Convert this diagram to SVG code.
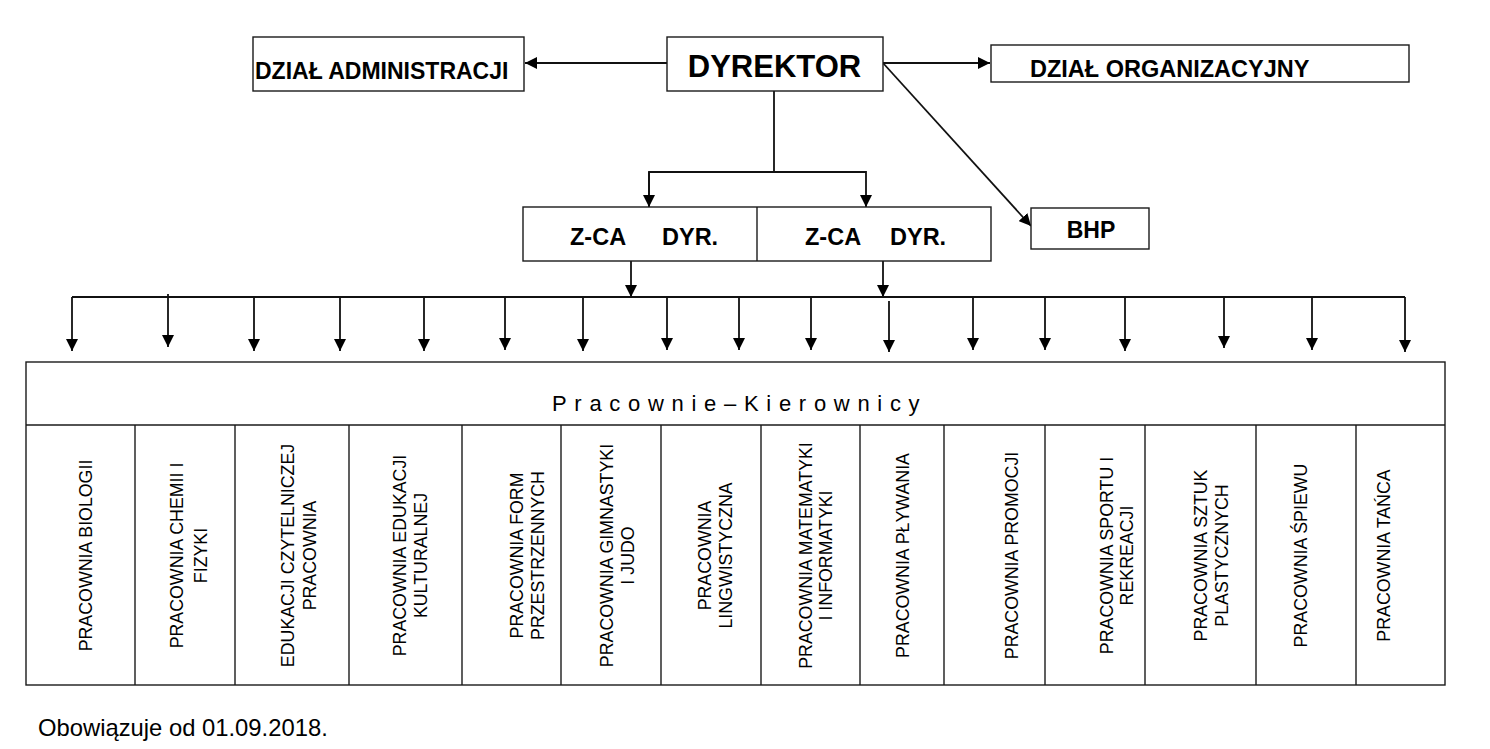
<svg xmlns="http://www.w3.org/2000/svg" width="1490" height="749" viewBox="0 0 1490 749">
<style>
.box{fill:#fff;stroke:#1a1a1a;stroke-width:1.4}
.line{fill:none;stroke:#111;stroke-width:1.8}
.b{font-family:"Liberation Sans",Arial,sans-serif;font-weight:bold;fill:#000}
.v{font-family:"Liberation Sans",Arial,sans-serif;font-size:17.8px;fill:#000}
.t{font-family:"Liberation Sans",Arial,sans-serif;fill:#000}
</style>
<defs>
<marker id="ah" markerWidth="12" markerHeight="12" refX="12" refY="6" orient="auto" markerUnits="userSpaceOnUse">
<path d="M0,0 L12,6 L0,12 z" fill="#000"/>
</marker>
</defs>
<rect width="1490" height="749" fill="#fff"/>

<g id="connectors">
<line class="line" x1="667" y1="63" x2="525" y2="63" marker-end="url(#ah)"/>
<line class="line" x1="883" y1="63" x2="990" y2="63" marker-end="url(#ah)"/>
<line class="line" x1="883" y1="63" x2="1031" y2="226" marker-end="url(#ah)"/>
<polyline class="line" points="774,91 774,172"/>
<polyline class="line" points="649,207 649,172 866,172 866,207" marker-end="url(#ah)"/>
<line class="line" x1="649" y1="172" x2="649" y2="207" marker-end="url(#ah)"/>
<line class="line" x1="631" y1="261" x2="631" y2="297" marker-end="url(#ah)"/>
<line class="line" x1="883" y1="261" x2="883" y2="297" marker-end="url(#ah)"/>
<line class="line" x1="72" y1="297" x2="1405" y2="297"/>
<line class="line" x1="72" y1="297" x2="72" y2="351" marker-end="url(#ah)"/>
<line class="line" x1="168" y1="294" x2="168" y2="347" marker-end="url(#ah)"/>
<line class="line" x1="254" y1="297" x2="254" y2="351" marker-end="url(#ah)"/>
<line class="line" x1="340" y1="297" x2="340" y2="351" marker-end="url(#ah)"/>
<line class="line" x1="424" y1="297" x2="424" y2="351" marker-end="url(#ah)"/>
<line class="line" x1="505" y1="297" x2="505" y2="350" marker-end="url(#ah)"/>
<line class="line" x1="583" y1="297" x2="583" y2="351" marker-end="url(#ah)"/>
<line class="line" x1="667" y1="297" x2="667" y2="350" marker-end="url(#ah)"/>
<line class="line" x1="739" y1="297" x2="739" y2="350" marker-end="url(#ah)"/>
<line class="line" x1="811" y1="297" x2="811" y2="350" marker-end="url(#ah)"/>
<line class="line" x1="889" y1="301" x2="889" y2="352" marker-end="url(#ah)"/>
<line class="line" x1="973" y1="297" x2="973" y2="350" marker-end="url(#ah)"/>
<line class="line" x1="1045" y1="297" x2="1045" y2="350" marker-end="url(#ah)"/>
<line class="line" x1="1125" y1="297" x2="1125" y2="351" marker-end="url(#ah)"/>
<line class="line" x1="1224" y1="297" x2="1224" y2="348" marker-end="url(#ah)"/>
<line class="line" x1="1312" y1="297" x2="1312" y2="350" marker-end="url(#ah)"/>
<line class="line" x1="1405" y1="297" x2="1405" y2="352" marker-end="url(#ah)"/>
</g>

<g id="dzial-administracji">
<rect class="box" x="253" y="37" width="271" height="54"/>
<text class="b" x="255" y="79" font-size="23">DZIAŁ ADMINISTRACJI</text>
</g>

<g id="dyrektor">
<rect class="box" x="667" y="37" width="216" height="54"/>
<text class="b" x="774.5" y="77" font-size="31" text-anchor="middle">DYREKTOR</text>
</g>

<g id="dzial-organizacyjny">
<rect class="box" x="991" y="45" width="418" height="37"/>
<text class="b" x="1030" y="77" font-size="23.5">DZIAŁ ORGANIZACYJNY</text>
</g>

<g id="bhp">
<rect class="box" x="1031" y="208" width="118" height="41"/>
<text class="b" x="1091" y="238" font-size="23" text-anchor="middle">BHP</text>
</g>

<g id="zastepcy">
<rect class="box" x="523" y="207" width="468" height="54"/>
<line class="box" x1="757" y1="207" x2="757" y2="261"/>
<text class="b" y="245" font-size="23.5"><tspan x="570">Z-CA</tspan><tspan x="662">DYR.</tspan></text>
<text class="b" y="245" font-size="23.5"><tspan x="805">Z-CA</tspan><tspan x="890">DYR.</tspan></text>
</g>

<g id="pracownie">
<rect class="box" x="26" y="362" width="1419" height="323"/>
<line class="box" x1="26" y1="425" x2="1445" y2="425"/>
<text class="t" x="552" y="411" font-size="22" letter-spacing="7.7">Pracownie–Kierownicy</text>
<g class="box">
<line x1="135" y1="425" x2="135" y2="685"/>
<line x1="235" y1="425" x2="235" y2="685"/>
<line x1="349" y1="425" x2="349" y2="685"/>
<line x1="462" y1="425" x2="462" y2="685"/>
<line x1="561" y1="425" x2="561" y2="685"/>
<line x1="661" y1="425" x2="661" y2="685"/>
<line x1="761" y1="425" x2="761" y2="685"/>
<line x1="860" y1="425" x2="860" y2="685"/>
<line x1="944" y1="425" x2="944" y2="685"/>
<line x1="1045" y1="425" x2="1045" y2="685"/>
<line x1="1145" y1="425" x2="1145" y2="685"/>
<line x1="1256" y1="425" x2="1256" y2="685"/>
<line x1="1356" y1="425" x2="1356" y2="685"/>
</g>
<text class="v" transform="translate(0,555.5) rotate(-90)" text-anchor="middle"><tspan x="0" y="92">PRACOWNIA BIOLOGII</tspan></text>
<text class="v" transform="translate(0,555.5) rotate(-90)" text-anchor="middle"><tspan x="0" y="183">PRACOWNIA CHEMII I</tspan><tspan x="0" y="206.5">FIZYKI</tspan></text>
<text class="v" transform="translate(0,555.5) rotate(-90)" text-anchor="middle"><tspan x="0" y="293.5">EDUKACJI CZYTELNICZEJ</tspan><tspan x="0" y="316">PRACOWNIA</tspan></text>
<text class="v" transform="translate(0,555.5) rotate(-90)" text-anchor="middle"><tspan x="0" y="406">PRACOWNIA EDUKACJI</tspan><tspan x="0" y="426.5">KULTURALNEJ</tspan></text>
<text class="v" transform="translate(0,555.5) rotate(-90)" text-anchor="middle"><tspan x="0" y="523">PRACOWNIA FORM</tspan><tspan x="0" y="544">PRZESTRZENNYCH</tspan></text>
<text class="v" transform="translate(0,555.5) rotate(-90)" text-anchor="middle"><tspan x="0" y="612.5">PRACOWNIA GIMNASTYKI</tspan><tspan x="0" y="634">I JUDO</tspan></text>
<text class="v" transform="translate(0,555.5) rotate(-90)" text-anchor="middle"><tspan x="0" y="711">PRACOWNIA</tspan><tspan x="0" y="731.5">LINGWISTYCZNA</tspan></text>
<text class="v" transform="translate(0,555.5) rotate(-90)" text-anchor="middle"><tspan x="0" y="811.5">PRACOWNIA MATEMATYKI</tspan><tspan x="0" y="831.5">I INFORMATYKI</tspan></text>
<text class="v" transform="translate(0,555.5) rotate(-90)" text-anchor="middle"><tspan x="0" y="908.5">PRACOWNIA PŁYWANIA</tspan></text>
<text class="v" transform="translate(0,555.5) rotate(-90)" text-anchor="middle"><tspan x="0" y="1017.5">PRACOWNIA PROMOCJI</tspan></text>
<text class="v" transform="translate(0,555.5) rotate(-90)" text-anchor="middle"><tspan x="0" y="1112.5">PRACOWNIA SPORTU I</tspan><tspan x="0" y="1133">REKREACJI</tspan></text>
<text class="v" transform="translate(0,555.5) rotate(-90)" text-anchor="middle"><tspan x="0" y="1206.5">PRACOWNIA SZTUK</tspan><tspan x="0" y="1227.5">PLASTYCZNYCH</tspan></text>
<text class="v" transform="translate(0,555.5) rotate(-90)" text-anchor="middle"><tspan x="0" y="1306.5">PRACOWNIA ŚPIEWU</tspan></text>
<text class="v" transform="translate(0,555.5) rotate(-90)" text-anchor="middle"><tspan x="0" y="1389.5">PRACOWNIA TAŃCA</tspan></text>
</g>

<g id="footer">
<text class="t" x="38" y="736" font-size="23.8">Obowiązuje od 01.09.2018.</text>
</g>
</svg>
